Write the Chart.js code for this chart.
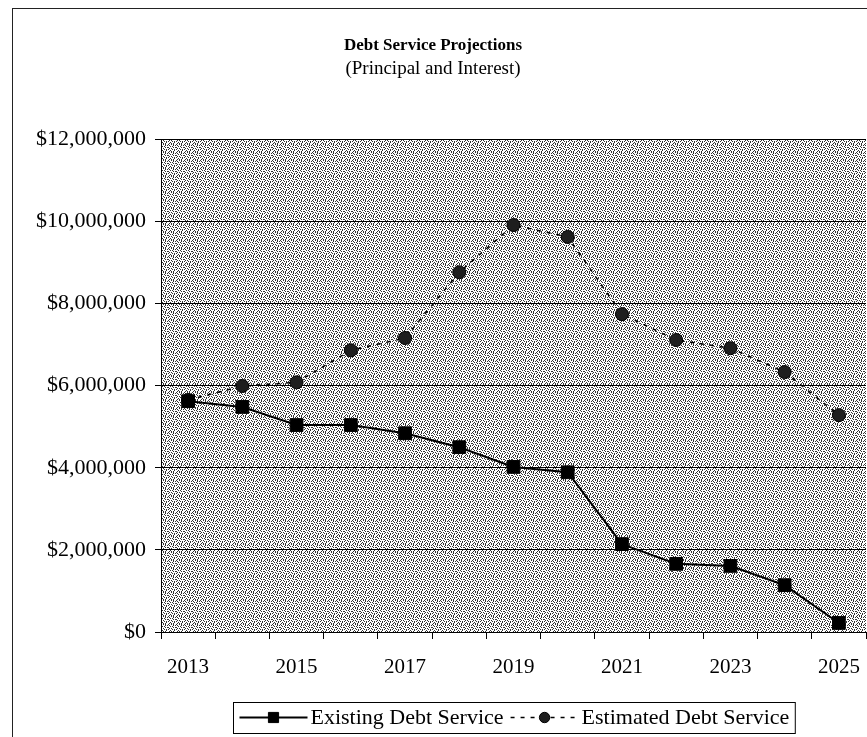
<!DOCTYPE html>
<html>
<head>
<meta charset="utf-8">
<title>Debt Service Projections</title>
<script src="https://cdn.jsdelivr.net/npm/chart.js@4.4.1/dist/chart.umd.min.js"></script>
<style>
  html, body { margin: 0; padding: 0; background: #fff; }
  canvas { display: block; }
</style>
</head>
<body>
<canvas id="debt-chart" width="867" height="737"></canvas>
<script>
const years = ["2013", "2014", "2015", "2016", "2017", "2018", "2019",
               "2020", "2021", "2022", "2023", "2024", "2025"];
const existingDebt = [5620000, 5480000, 5040000, 5040000, 4840000, 4500000, 4020000,
                      3890000, 2140000, 1660000, 1610000, 1140000, 220000];
const estimatedDebt = [5650000, 5990000, 6080000, 6860000, 7160000, 8760000, 9910000,
                       9620000, 7740000, 7110000, 6910000, 6330000, 5280000];
const yMin = 0;
const yMax = 12000000;
const yStep = 2000000;

const SERIF = "'Liberation Serif', 'Times New Roman', serif";

// stippled fill for the plot area, like an old printer halftone
function stipple() {
  const rows = [
    "X..X.X..",
    ".X...X.X",
    "..X.X...",
    "X....X.X",
    ".X.X....",
    "X...X.X.",
    "..X...X.",
    ".X.X.X..",
  ];
  const c = document.createElement("canvas");
  c.width = 8; c.height = 8;
  const g = c.getContext("2d");
  g.fillStyle = "#fff";
  g.fillRect(0, 0, 8, 8);
  g.fillStyle = "#333";
  rows.forEach((r, y) => {
    for (let x = 0; x < r.length; x++) if (r[x] === "X") g.fillRect(x, y, 1, 1);
  });
  return c;
}

const frame = {
  id: "frame",
  beforeDraw(chart) {
    const { ctx, chartArea: a, width, height } = chart;
    ctx.save();
    ctx.fillStyle = "#fff";
    ctx.fillRect(0, 0, width, height);
    ctx.strokeStyle = "#222";
    ctx.lineWidth = 1;
    ctx.strokeRect(12.5, 8.5, width + 20, height + 20);
    ctx.fillStyle = ctx.createPattern(stipple(), "repeat");
    ctx.fillRect(a.left, a.top, a.right - a.left, a.bottom - a.top);
    ctx.restore();
  },
};

// boxed legend with line + marker samples
const boxLegend = {
  id: "boxLegend",
  afterDraw(chart) {
    const { ctx, chartArea: a } = chart;
    const sets = chart.data.datasets;
    const sampleW = 68, gap = 3, itemGap = 7, padX = 6;
    const top = 702, bottom = 733, mid = (top + bottom) / 2;
    ctx.save();
    ctx.font = "22px " + SERIF;
    const widths = sets.map((d) => ctx.measureText(d.label).width);
    let total = padX * 2 + itemGap * (sets.length - 1);
    widths.forEach((w) => { total += sampleW + gap + w; });
    const x0 = Math.round((a.left + a.right) / 2 - total / 2) + 0.5;
    ctx.fillStyle = "#fff";
    ctx.fillRect(x0, top + 0.5, total, bottom - top);
    ctx.strokeStyle = "#000";
    ctx.lineWidth = 1;
    ctx.strokeRect(x0, top + 0.5, total, bottom - top);

    let x = x0 + padX;
    sets.forEach((d, i) => {
      ctx.strokeStyle = d.borderColor;
      ctx.lineWidth = d.borderWidth;
      ctx.setLineDash(d.borderDash || []);
      ctx.beginPath();
      ctx.moveTo(x, mid);
      ctx.lineTo(x + sampleW, mid);
      ctx.stroke();
      ctx.setLineDash([]);
      ctx.fillStyle = d.pointBackgroundColor;
      ctx.strokeStyle = d.pointBorderColor;
      ctx.lineWidth = d.pointBorderWidth;
      Chart.helpers.drawPoint(ctx, {
        pointStyle: d.pointStyle, radius: d.pointRadius * 0.8,
        rotation: 0, borderWidth: d.pointBorderWidth,
      }, x + sampleW / 2, mid);
      x += sampleW + gap;
      ctx.fillStyle = "#000";
      ctx.textBaseline = "middle";
      ctx.fillText(d.label, x, mid + 1);
      x += widths[i] + itemGap;
    });
    ctx.restore();
  },
};

const money = (v) => "$" + Number(v).toLocaleString("en-US");

new Chart(document.getElementById("debt-chart"), {
  type: "line",
  data: {
    labels: years,
    datasets: [
      {
        label: "Existing Debt Service",
        data: existingDebt,
        borderColor: "#000",
        borderWidth: 2,
        pointStyle: "rect",
        pointRadius: 9,
        pointBackgroundColor: "#000",
        pointBorderColor: "#000",
        pointBorderWidth: 1,
        tension: 0,
      },
      {
        label: "Estimated Debt Service",
        data: estimatedDebt,
        borderColor: "#000",
        borderWidth: 1.5,
        borderDash: [4, 6],
        pointStyle: "circle",
        pointRadius: 6.5,
        pointBackgroundColor: "#1e1e1e",
        pointBorderColor: "#000",
        pointBorderWidth: 1,
        tension: 0,
      },
    ],
  },
  options: {
    responsive: false,
    animation: false,
    devicePixelRatio: 1,
    layout: { autoPadding: false, padding: { left: 0, right: 1, top: 0, bottom: 0 } },
    plugins: {
      legend: { display: false },
      tooltip: { enabled: false },
      title: {
        display: true,
        text: "Debt Service Projections",
        color: "#000",
        font: { family: SERIF, size: 17, weight: "bold" },
        padding: { top: 35, bottom: 2 },
      },
      subtitle: {
        display: true,
        text: "(Principal and Interest)",
        color: "#000",
        font: { family: SERIF, size: 19 },
        padding: { top: 0, bottom: 59 },
      },
    },
    scales: {
      x: {
        offset: true,
        grid: { offset: true, drawOnChartArea: false, color: "#000", tickLength: 7 },
        border: { color: "#000", width: 1 },
        ticks: {
          autoSkip: false,
          maxRotation: 0,
          padding: 16,
          color: "#000",
          font: { family: SERIF, size: 21 },
          callback: (v, i) => (i % 2 === 0 ? years[i] : ""),
        },
        afterFit: (s) => {
          s.height = 105;
          s.paddingLeft = 0;
          s.paddingRight = 0;
        },
      },
      y: {
        min: yMin,
        max: yMax,
        grid: { color: "#000", lineWidth: 1, tickLength: 6 },
        border: { color: "#000", width: 1 },
        ticks: {
          stepSize: yStep,
          padding: 9,
          color: "#000",
          font: { family: SERIF, size: 22 },
          callback: money,
        },
        afterFit: (s) => { s.width = 161; },
      },
    },
  },
  plugins: [frame, boxLegend],
});
</script>
</body>
</html>
